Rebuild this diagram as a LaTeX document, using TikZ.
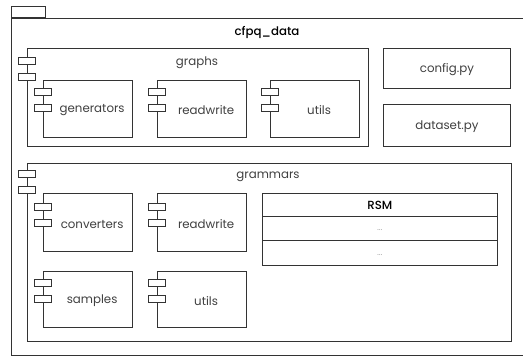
\documentclass[tikz,border=0pt]{standalone}
\usepackage{fontspec}
\setmainfont{Poppins}[BoldFont={Poppins Medium}]
\usetikzlibrary{positioning}

\definecolor{linha}{rgb}{0.2,0.2,0.2}
\definecolor{texto}{rgb}{0.25,0.25,0.25}

\tikzset{
  caixa/.style={draw=linha, line width=0.8pt, fill=white, inner sep=0pt, anchor=north west},
  icone/.style={draw=linha, line width=0.8pt, fill=white},
  rotulo/.style={text=texto, font=\fontsize{11.8}{13}\selectfont, inner sep=0pt},
  titulo/.style={text=black, font=\fontsize{11.8}{13}\selectfont\bfseries, inner sep=0pt},
  pontos/.style={text=gray, font=\fontsize{7}{8}\selectfont, inner sep=0pt}
}

\newcommand{\icones}[2]{%
  \draw[icone] ([xshift=-8.5,yshift=-#2]#1.north west) rectangle ++(17,7);
  \draw[icone] ([xshift=-8.5,yshift=-#2-16]#1.north west) rectangle ++(17,7);
}

\begin{document}
\begin{tikzpicture}[x=1pt, y=-1pt]
            \useasboundingbox (0,0) rectangle (523,356);

            \node[caixa, minimum width=514, minimum height=337] (cfpq) at (11,18) {};
            \node[caixa, minimum width=34, minimum height=11, anchor=south west] (aba) at (cfpq.north west) {};
            \node[titulo] (cfpq-t) at (267,32.5) {cfpq\_data};

            \node[caixa, minimum width=341, minimum height=98] (graphs) at (26.5,48) {};
            \icones{graphs}{9}
            \node[rotulo] (graphs-t) at (197,62.5) {graphs};

            \node[caixa, minimum width=89, minimum height=57] (g-gen) at (43,80) {};
            \node[caixa, minimum width=89, minimum height=57] (g-rw) at (157,80) {};
            \node[caixa, minimum width=89, minimum height=57] (g-utils) at (270,80) {};
            \icones{g-gen}{8}
            \icones{g-rw}{8}
            \icones{g-utils}{8}
            \node[rotulo] (g-gen-t) at ([xshift=4.25,yshift=-30.5]g-gen.north) {generators};
            \node[rotulo] (g-rw-t) at ([xshift=4.25,yshift=-30.5]g-rw.north) {readwrite};
            \node[rotulo] (g-utils-t) at ([xshift=4.25,yshift=-30]g-utils.north) {utils};

            \node[caixa, minimum width=127, minimum height=40] (config) at (383,48) {};
            \node[caixa, minimum width=127, minimum height=42] (dataset) at (383,104) {};
            \node[rotulo] (config-t) at ([yshift=-1.5]config.center) {config.py};
            \node[rotulo] (dataset-t) at ([yshift=-1.5]dataset.center) {dataset.py};

            \node[caixa, minimum width=484, minimum height=178] (grammars) at (26.5,163) {};
            \icones{grammars}{7}
            \node[rotulo] (grammars-t) at (268,176.5) {grammars};

            \node[caixa, minimum width=89, minimum height=58] (gr-conv) at (43,193) {};
            \node[caixa, minimum width=89, minimum height=58] (gr-rw) at (157,193) {};
            \node[caixa, minimum width=89, minimum height=56] (gr-samp) at (43,271) {};
            \node[caixa, minimum width=89, minimum height=56] (gr-utils) at (157,271) {};
            \icones{gr-conv}{10}
            \icones{gr-rw}{10}
            \icones{gr-samp}{8}
            \icones{gr-utils}{8}
            \node[rotulo] (gr-conv-t) at ([xshift=4.25,yshift=-31.5]gr-conv.north) {converters};
            \node[rotulo] (gr-rw-t) at ([xshift=4.25,yshift=-31.5]gr-rw.north) {readwrite};
            \node[rotulo] (gr-samp-t) at ([xshift=4.25,yshift=-30]gr-samp.north) {samples};
            \node[rotulo] (gr-utils-t) at ([xshift=4.25,yshift=-30]gr-utils.north) {utils};

            \node[caixa, minimum width=235, minimum height=72] (rsm) at (262,193) {};
            \draw[linha, line width=0.8pt] ([yshift=-23]rsm.north west) -- ([yshift=-23]rsm.north east);
            \draw[linha, line width=0.8pt] ([yshift=-47]rsm.north west) -- ([yshift=-47]rsm.north east);
            \node[titulo] (rsm-t) at ([yshift=-12.5]rsm.north) {RSM};
            \node[pontos] (rsm-a) at ([yshift=-37]rsm.north) {.\kern0.3pt.\kern0.3pt.};
            \node[pontos] (rsm-b) at ([yshift=-62]rsm.north) {.\kern0.3pt.\kern0.3pt.};
        \end{tikzpicture}
\end{document}
